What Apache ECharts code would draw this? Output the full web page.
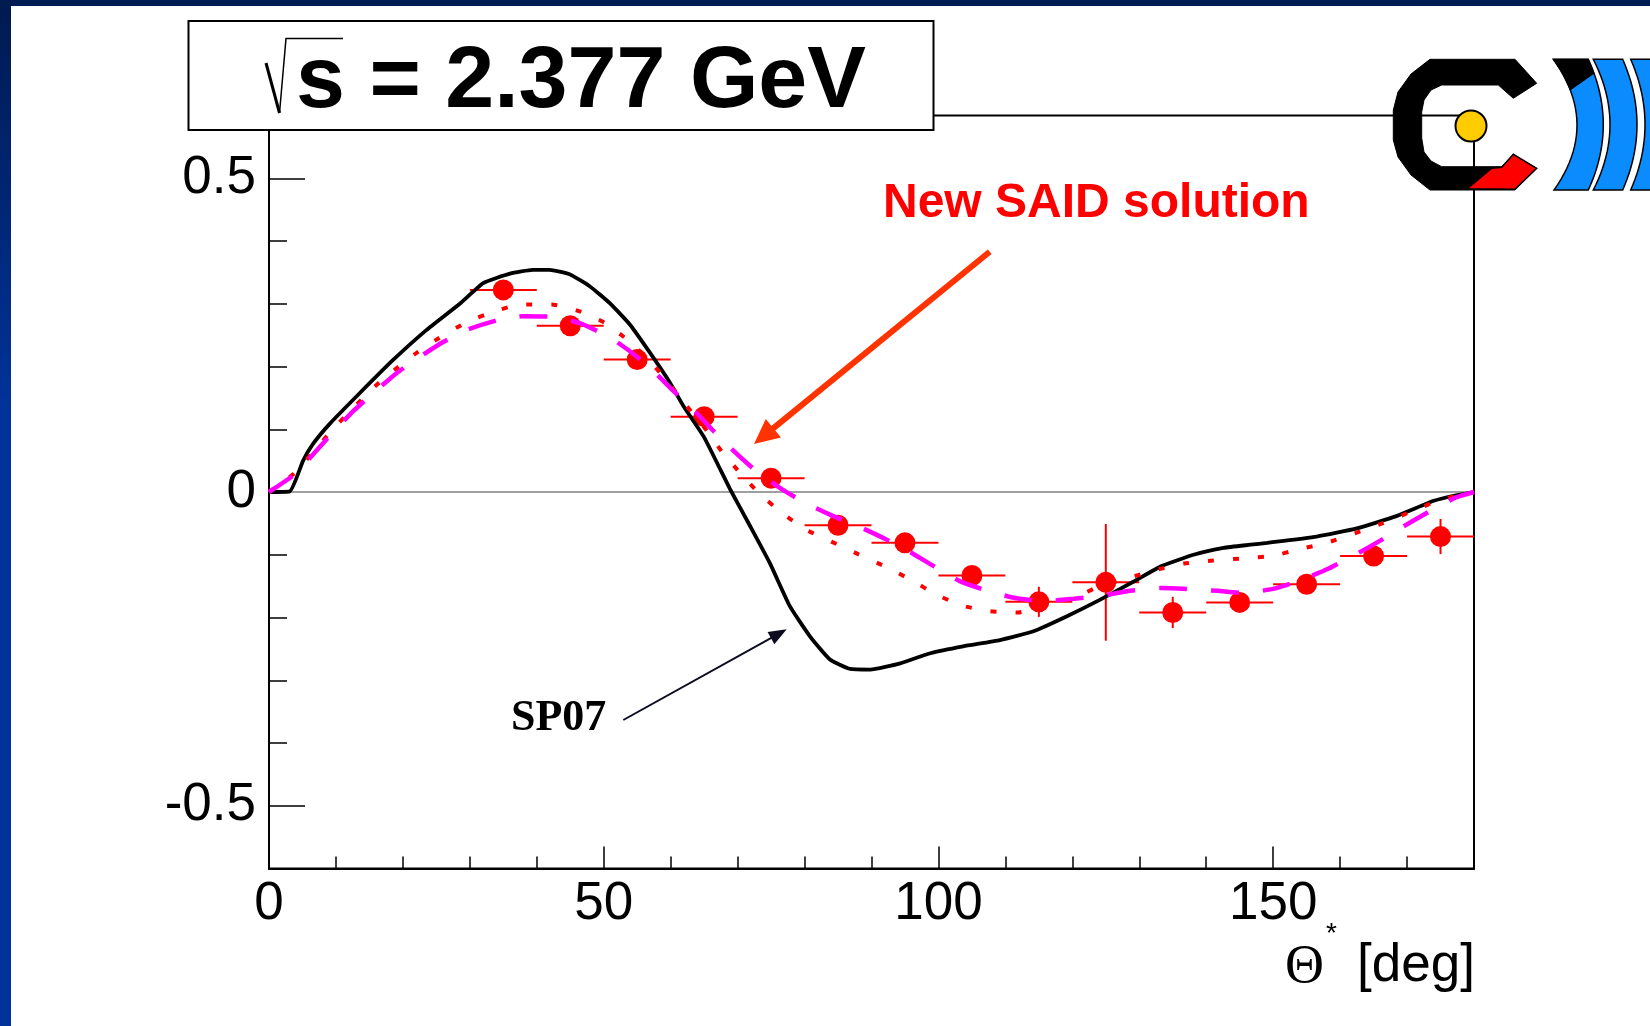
<!DOCTYPE html>
<html>
<head>
<meta charset="utf-8">
<script src="https://cdn.jsdelivr.net/npm/echarts@6/dist/echarts.min.js"></script>
<style>
  html, body { margin: 0; padding: 0; background: #ffffff; }
  #chart { width: 1650px; height: 1026px; }
</style>
</head>
<body>
<div id="chart"></div>
<script>
// Measured asymmetry points: bin centre, half bin width, value, uncertainty
const thetaDeg     = [35, 45, 55, 65, 75, 85, 95, 105, 115, 125, 135, 145, 155, 165, 175];
const thetaHalfBin = [5, 5, 5, 5, 5, 5, 5, 5, 5, 5, 5, 5, 5, 5, 5];
const asym         = [0.322, 0.265, 0.211, 0.120, 0.022, -0.053, -0.081, -0.133, -0.175, -0.144, -0.192, -0.176, -0.147, -0.102, -0.071];
const asymErr      = [0.012, 0.012, 0.012, 0.012, 0.012, 0.012, 0.012, 0.012, 0.024, 0.093, 0.025, 0.012, 0.012, 0.012, 0.028];

// Axis ticks
const xTicksMajor = [0, 50, 100, 150];
const xTicksMinor = [10, 20, 30, 40, 60, 70, 80, 90, 110, 120, 130, 140, 160, 170];
const yTicksMajor = [-0.5, 0, 0.5];
const yTicksMinor = [-0.4, -0.3, -0.2, -0.1, 0.1, 0.2, 0.3, 0.4];

// SP07 partial-wave solution
const sp07 = [
  [0, 0], [3.1, 0.001], [5.1, 0.05], [6.6, 0.077], [9.1, 0.109], [13.5, 0.157], [18.5, 0.21],
  [23.5, 0.258], [28.5, 0.300], [32, 0.333], [36, 0.348], [39.4, 0.354], [41.9, 0.354],
  [44.9, 0.347], [47.9, 0.328], [50.9, 0.301], [53.9, 0.267], [56.9, 0.222], [59.9, 0.174],
  [61.9, 0.137], [64.9, 0.089], [66.9, 0.047], [68.9, 0.004], [71.8, -0.053], [74.8, -0.113],
  [77.8, -0.182], [80.8, -0.230], [83.8, -0.267], [86.8, -0.282], [89.8, -0.283], [94.3, -0.273],
  [98.8, -0.257], [103.7, -0.246], [109.2, -0.236], [114.2, -0.222], [119.2, -0.198],
  [124.1, -0.172], [129.1, -0.143], [133.1, -0.119], [138.1, -0.100], [142.6, -0.089],
  [146.6, -0.084], [149.1, -0.081], [156.5, -0.071], [162.5, -0.058], [168.5, -0.038],
  [174, -0.014], [177, -0.006], [180, 0]
];

// Refitted solution (dotted)
const fitDotted = [
  [0, 0], [3.8, 0.030], [9.6, 0.101], [12.5, 0.133], [15.5, 0.1655], [18.8, 0.195], [22.2, 0.223],
  [25.8, 0.248], [29.6, 0.271], [33.7, 0.288], [37.7, 0.299], [42.2, 0.299], [46.4, 0.288],
  [50.2, 0.2695], [53.6, 0.242], [56.9, 0.2086], [59.9, 0.171], [62.4, 0.137], [65.1, 0.102],
  [67.6, 0.065], [70.4, 0.030], [73.3, -0.003], [76.7, -0.034], [80.2, -0.060], [84, -0.079],
  [88, -0.099], [92, -0.1186], [95.9, -0.140], [99.6, -0.163], [103.5, -0.181], [107.7, -0.190],
  [111.9, -0.192], [115.7, -0.182], [120.4, -0.168], [124.1, -0.150], [128.4, -0.137],
  [132.6, -0.124], [136.7, -0.114], [141.1, -0.109], [145.4, -0.106], [149.8, -0.102],
  [154, -0.091], [158, -0.081], [162.2, -0.066], [166.3, -0.050], [170.2, -0.033],
  [174.5, -0.0144], [178.7, -0.0026], [180, 0]
];

// New SAID solution (dashed)
const saidNew = [
  [0, 0], [4.1, 0.030], [6.6, 0.060], [9.3, 0.092], [12.5, 0.128], [15.5, 0.157], [19, 0.189],
  [22.2, 0.213], [26, 0.239], [29.7, 0.259], [34, 0.2735], [37.9, 0.280], [42.7, 0.279],
  [46.4, 0.269], [50.7, 0.248], [54.2, 0.222], [57.4, 0.193], [60.4, 0.161], [63.9, 0.1255],
  [66.6, 0.095], [69.6, 0.0635], [72.8, 0.033], [76.6, 0.0045], [80.1, -0.0175], [84.2, -0.038],
  [88, -0.0545], [92, -0.0745], [95.8, -0.096], [99.5, -0.1195], [103.2, -0.142], [107.4, -0.158],
  [111.5, -0.169], [115.8, -0.174], [120.2, -0.170], [124.6, -0.165], [128.6, -0.1575],
  [133.1, -0.153], [137.1, -0.1545], [141.7, -0.1575], [145.7, -0.161], [150.3, -0.1536],
  [154.5, -0.139], [158.3, -0.122], [162.2, -0.1005], [166, -0.0775], [169.5, -0.0545],
  [173.5, -0.030], [177.2, -0.009], [180, 0]
];

const zeroLine = [[0, 0], [180, 0]];

const SANS = '"Liberation Sans", Arial, Helvetica, sans-serif';
const SERIF = '"Liberation Serif", "Times New Roman", serif';

// ---- helpers for decorative shapes ----
function arrowHead(x1, y1, x2, y2, len, halfW) {
  const dx = x2 - x1, dy = y2 - y1, L = Math.hypot(dx, dy);
  const ux = dx / L, uy = dy / L, nx = -uy, ny = ux;
  const bx = x2 - ux * len, by = y2 - uy * len;
  return [[x2, y2], [bx + nx * halfW, by + ny * halfW], [bx - nx * halfW, by - ny * halfW]];
}
function arrowShaftEnd(x1, y1, x2, y2, back) {
  const dx = x2 - x1, dy = y2 - y1, L = Math.hypot(dx, dy);
  return [x2 - dx / L * back, y2 - dy / L * back];
}
// quadratic edge from (xTop, y0) through xMid at mid-height to (xBot, y1)
function edge(xTop, xMid, xBot, y0, y1, t0, t1, n) {
  const cx = 2 * xMid - (xTop + xBot) / 2, cy = (y0 + y1) / 2;
  const pts = [];
  for (let i = 0; i <= n; i++) {
    const t = t0 + (t1 - t0) * i / n, a = 1 - t;
    pts.push([a * a * xTop + 2 * a * t * cx + t * t * xBot, a * a * y0 + 2 * a * t * cy + t * t * y1]);
  }
  return pts;
}
function bandPoly(l, r, y0, y1) {
  return edge(l[0], l[1], l[2], y0, y1, 0, 1, 24).concat(edge(r[0], r[1], r[2], y0, y1, 1, 0, 24));
}

const LY0 = 59.3, LY1 = 190;
const band1L = [1553.3, 1577, 1554], band1R = [1588.3, 1603.3, 1588.3];
const band2L = [1593.3, 1610, 1593.3], band2R = [1622.7, 1637, 1622.7];
const band3L = [1630.7, 1645, 1630.7], band3R = [1665, 1680, 1665];
const wedge = edge(band1L[0], band1L[1], band1L[2], LY0, LY1, 0, 0.235, 8)
  .concat(edge(band1R[0], band1R[1], band1R[2], LY0, LY1, 0.107, 0, 4));

const cShape = [
  [1430, 59.3], [1515, 59.3], [1536.7, 83.3], [1513.3, 98.3], [1498.3, 85], [1441.7, 85],
  [1431, 90], [1424, 100], [1421.7, 112], [1421.7, 138], [1424, 152], [1431, 161], [1441.7, 166.7], [1501.7, 166.7],
  [1513.3, 155], [1536.7, 168.3], [1515, 190], [1430, 190], [1411, 175], [1398, 157], [1393.3, 140],
  [1393.3, 110], [1398, 92], [1411, 74]
];
const cRed = [[1467.3, 188.8], [1491.7, 168.3], [1501.7, 167.3], [1513.3, 154.3], [1536.7, 168.3], [1515, 189.3]];

const sp07Arrow = [623.3, 720, 786.7, 629.3];
const saidArrow = [989.7, 251.7, 754, 444];
const sp07Shaft = arrowShaftEnd(...sp07Arrow, 14);
const saidShaft = arrowShaftEnd(...saidArrow, 18);

const chart = echarts.init(document.getElementById('chart'), null, { renderer: 'canvas' });

const option = {
  animation: false,
  backgroundColor: '#ffffff',
  grid: {
    left: 269, right: 176, top: 115.5, bottom: 157.5,
    show: true, borderColor: '#000000', borderWidth: 2, backgroundColor: 'transparent'
  },
  xAxis: [
    {
      type: 'value', min: 0, max: 180, position: 'bottom',
      axisLine: { show: true, onZero: false, lineStyle: { color: '#000', width: 2 } },
      axisTick: { show: true, inside: true, length: 22, customValues: xTicksMajor, lineStyle: { color: '#000', width: 1.5 } },
      axisLabel: { show: true, customValues: xTicksMajor, margin: 9, color: '#000', fontFamily: SANS, fontSize: 53 },
      splitLine: { show: false }
    },
    {
      type: 'value', min: 0, max: 180, position: 'bottom',
      axisLine: { show: false, onZero: false },
      axisTick: { show: true, inside: true, length: 12, customValues: xTicksMinor, lineStyle: { color: '#000', width: 1.5 } },
      axisLabel: { show: false },
      splitLine: { show: false }
    }
  ],
  yAxis: [
    {
      type: 'value', min: -0.6, max: 0.6, position: 'left',
      axisLine: { show: true, onZero: false, lineStyle: { color: '#000', width: 2 } },
      axisTick: { show: true, inside: true, length: 36, customValues: yTicksMajor, lineStyle: { color: '#000', width: 1.5 } },
      axisLabel: { show: true, customValues: yTicksMajor, margin: 13, color: '#000', fontFamily: SANS, fontSize: 53,
        formatter: v => (Math.abs(v) < 1e-9 ? '0' : String(v)) },
      splitLine: { show: false }
    },
    {
      type: 'value', min: -0.6, max: 0.6, position: 'left',
      axisLine: { show: false, onZero: false },
      axisTick: { show: true, inside: true, length: 18, customValues: yTicksMinor, lineStyle: { color: '#000', width: 1.5 } },
      axisLabel: { show: false },
      splitLine: { show: false }
    }
  ],
  series: [
    {
      name: 'zero', type: 'line', data: zeroLine, symbol: 'none', silent: true, z: 1,
      lineStyle: { color: '#a0a0a0', width: 2 }
    },
    {
      name: 'errors', type: 'custom', z: 2, silent: true,
      data: thetaDeg.map((t, i) => [t, asym[i], thetaHalfBin[i], asymErr[i]]),
      encode: { x: 0, y: 1 },
      renderItem: function (params, api) {
        const x = api.value(0), y = api.value(1), ex = api.value(2), ey = api.value(3);
        const l = api.coord([x - ex, y]), r = api.coord([x + ex, y]);
        const t = api.coord([x, y + ey]), b = api.coord([x, y - ey]);
        const style = { stroke: '#ff0000', lineWidth: 2 };
        return {
          type: 'group',
          children: [
            { type: 'line', shape: { x1: l[0], y1: l[1], x2: r[0], y2: r[1] }, style: style },
            { type: 'line', shape: { x1: t[0], y1: t[1], x2: b[0], y2: b[1] }, style: style }
          ]
        };
      }
    },
    {
      name: 'data', type: 'scatter', z: 3, symbol: 'circle', symbolSize: 21,
      itemStyle: { color: '#ff0000', opacity: 1 },
      data: thetaDeg.map((t, i) => [t, asym[i]])
    },
    {
      name: 'SP07', type: 'line', z: 4, data: sp07, symbol: 'none', smooth: 0.15,
      lineStyle: { color: '#000000', width: 3.8 }
    },
    {
      name: 'fit', type: 'line', z: 5, data: fitDotted, symbol: 'none', smooth: 0.15,
      lineStyle: { color: '#ff0000', width: 4, type: [6, 19], cap: 'butt' }
    },
    {
      name: 'New SAID', type: 'line', z: 6, data: saidNew, symbol: 'none', smooth: 0.15,
      lineStyle: { color: '#ff00ff', width: 4.5, type: [28, 24], cap: 'butt' }
    }
  ],
  graphic: {
    elements: [
      // page border strips
      { type: 'rect', z: 100, shape: { x: 0, y: 0, width: 1650, height: 6 }, style: { fill: '#001c55' } },
      {
        type: 'rect', z: 100, shape: { x: 0, y: 0, width: 11, height: 1026 },
        style: {
          fill: new echarts.graphic.LinearGradient(0, 0, 0, 1, [
            { offset: 0, color: '#001a50' }, { offset: 0.4, color: '#003399' }, { offset: 1, color: '#003399' }
          ])
        }
      },
      // title box
      { type: 'rect', z: 100, shape: { x: 188.5, y: 21, width: 745, height: 109 }, style: { fill: '#ffffff', stroke: '#000000', lineWidth: 2 } },
      { type: 'polyline', z: 101, shape: { points: [[266, 63], [279.5, 113]] }, style: { stroke: '#000', lineWidth: 3, fill: null } },
      { type: 'polyline', z: 101, shape: { points: [[279.5, 113], [286, 38.5], [343, 38.5]] }, style: { stroke: '#000', lineWidth: 1.5, fill: null } },
      {
        type: 'text', z: 101, x: 296, y: 83,
        style: { text: 's = 2.377 GeV', fill: '#000', font: 'bold 88px ' + SANS, verticalAlign: 'middle', align: 'left' }
      },
      // logo
      { type: 'polygon', z: 100, shape: { points: cShape }, style: { fill: '#000000', stroke: '#000', lineWidth: 1 } },
      { type: 'polygon', z: 101, shape: { points: cRed }, style: { fill: '#ff0000', stroke: '#000', lineWidth: 1.5 } },
      { type: 'circle', z: 102, shape: { cx: 1471, cy: 126, r: 15.5 }, style: { fill: '#ffcc00', stroke: '#000', lineWidth: 2 } },
      { type: 'polygon', z: 100, shape: { points: bandPoly(band1L, band1R, LY0, LY1) }, style: { fill: '#0a8cff', stroke: '#000', lineWidth: 1.5 } },
      { type: 'polygon', z: 101, shape: { points: wedge }, style: { fill: '#000', stroke: '#000', lineWidth: 1 } },
      { type: 'polygon', z: 100, shape: { points: bandPoly(band2L, band2R, LY0, LY1) }, style: { fill: '#0a8cff', stroke: '#000', lineWidth: 1.5 } },
      { type: 'polygon', z: 100, shape: { points: bandPoly(band3L, band3R, LY0, LY1) }, style: { fill: '#0a8cff', stroke: '#000', lineWidth: 1.5 } },
      // annotation: New SAID solution
      {
        type: 'text', z: 101, x: 883, y: 204,
        style: { text: 'New SAID solution', fill: '#ff0000', font: 'bold 48px ' + SANS, verticalAlign: 'middle', align: 'left' }
      },
      { type: 'line', z: 101, shape: { x1: saidArrow[0], y1: saidArrow[1], x2: saidShaft[0], y2: saidShaft[1] }, style: { stroke: '#ff3300', lineWidth: 6 } },
      { type: 'polygon', z: 101, shape: { points: arrowHead(...saidArrow, 25, 12) }, style: { fill: '#ff3300' } },
      // annotation: SP07
      {
        type: 'text', z: 101, x: 511, y: 719,
        style: { text: 'SP07', fill: '#000', font: 'bold 44px ' + SERIF, verticalAlign: 'middle', align: 'left' }
      },
      { type: 'line', z: 101, shape: { x1: sp07Arrow[0], y1: sp07Arrow[1], x2: sp07Shaft[0], y2: sp07Shaft[1] }, style: { stroke: '#0b0b20', lineWidth: 2 } },
      { type: 'polygon', z: 101, shape: { points: arrowHead(...sp07Arrow, 18, 7) }, style: { fill: '#0b0b20' } },
      // x axis title
      { type: 'text', z: 101, x: 1285, y: 968, style: { text: 'Θ', fill: '#000', font: '54px ' + SERIF, verticalAlign: 'middle', align: 'left' } },
      { type: 'text', z: 101, x: 1326, y: 934, style: { text: '*', fill: '#000', font: '28px ' + SANS, verticalAlign: 'middle', align: 'left' } },
      { type: 'text', z: 101, x: 1475, y: 966, style: { text: '[deg]', fill: '#000', font: '53px ' + SANS, verticalAlign: 'middle', align: 'right' } }
    ]
  }
};

chart.setOption(option);
</script>
</body>
</html>
